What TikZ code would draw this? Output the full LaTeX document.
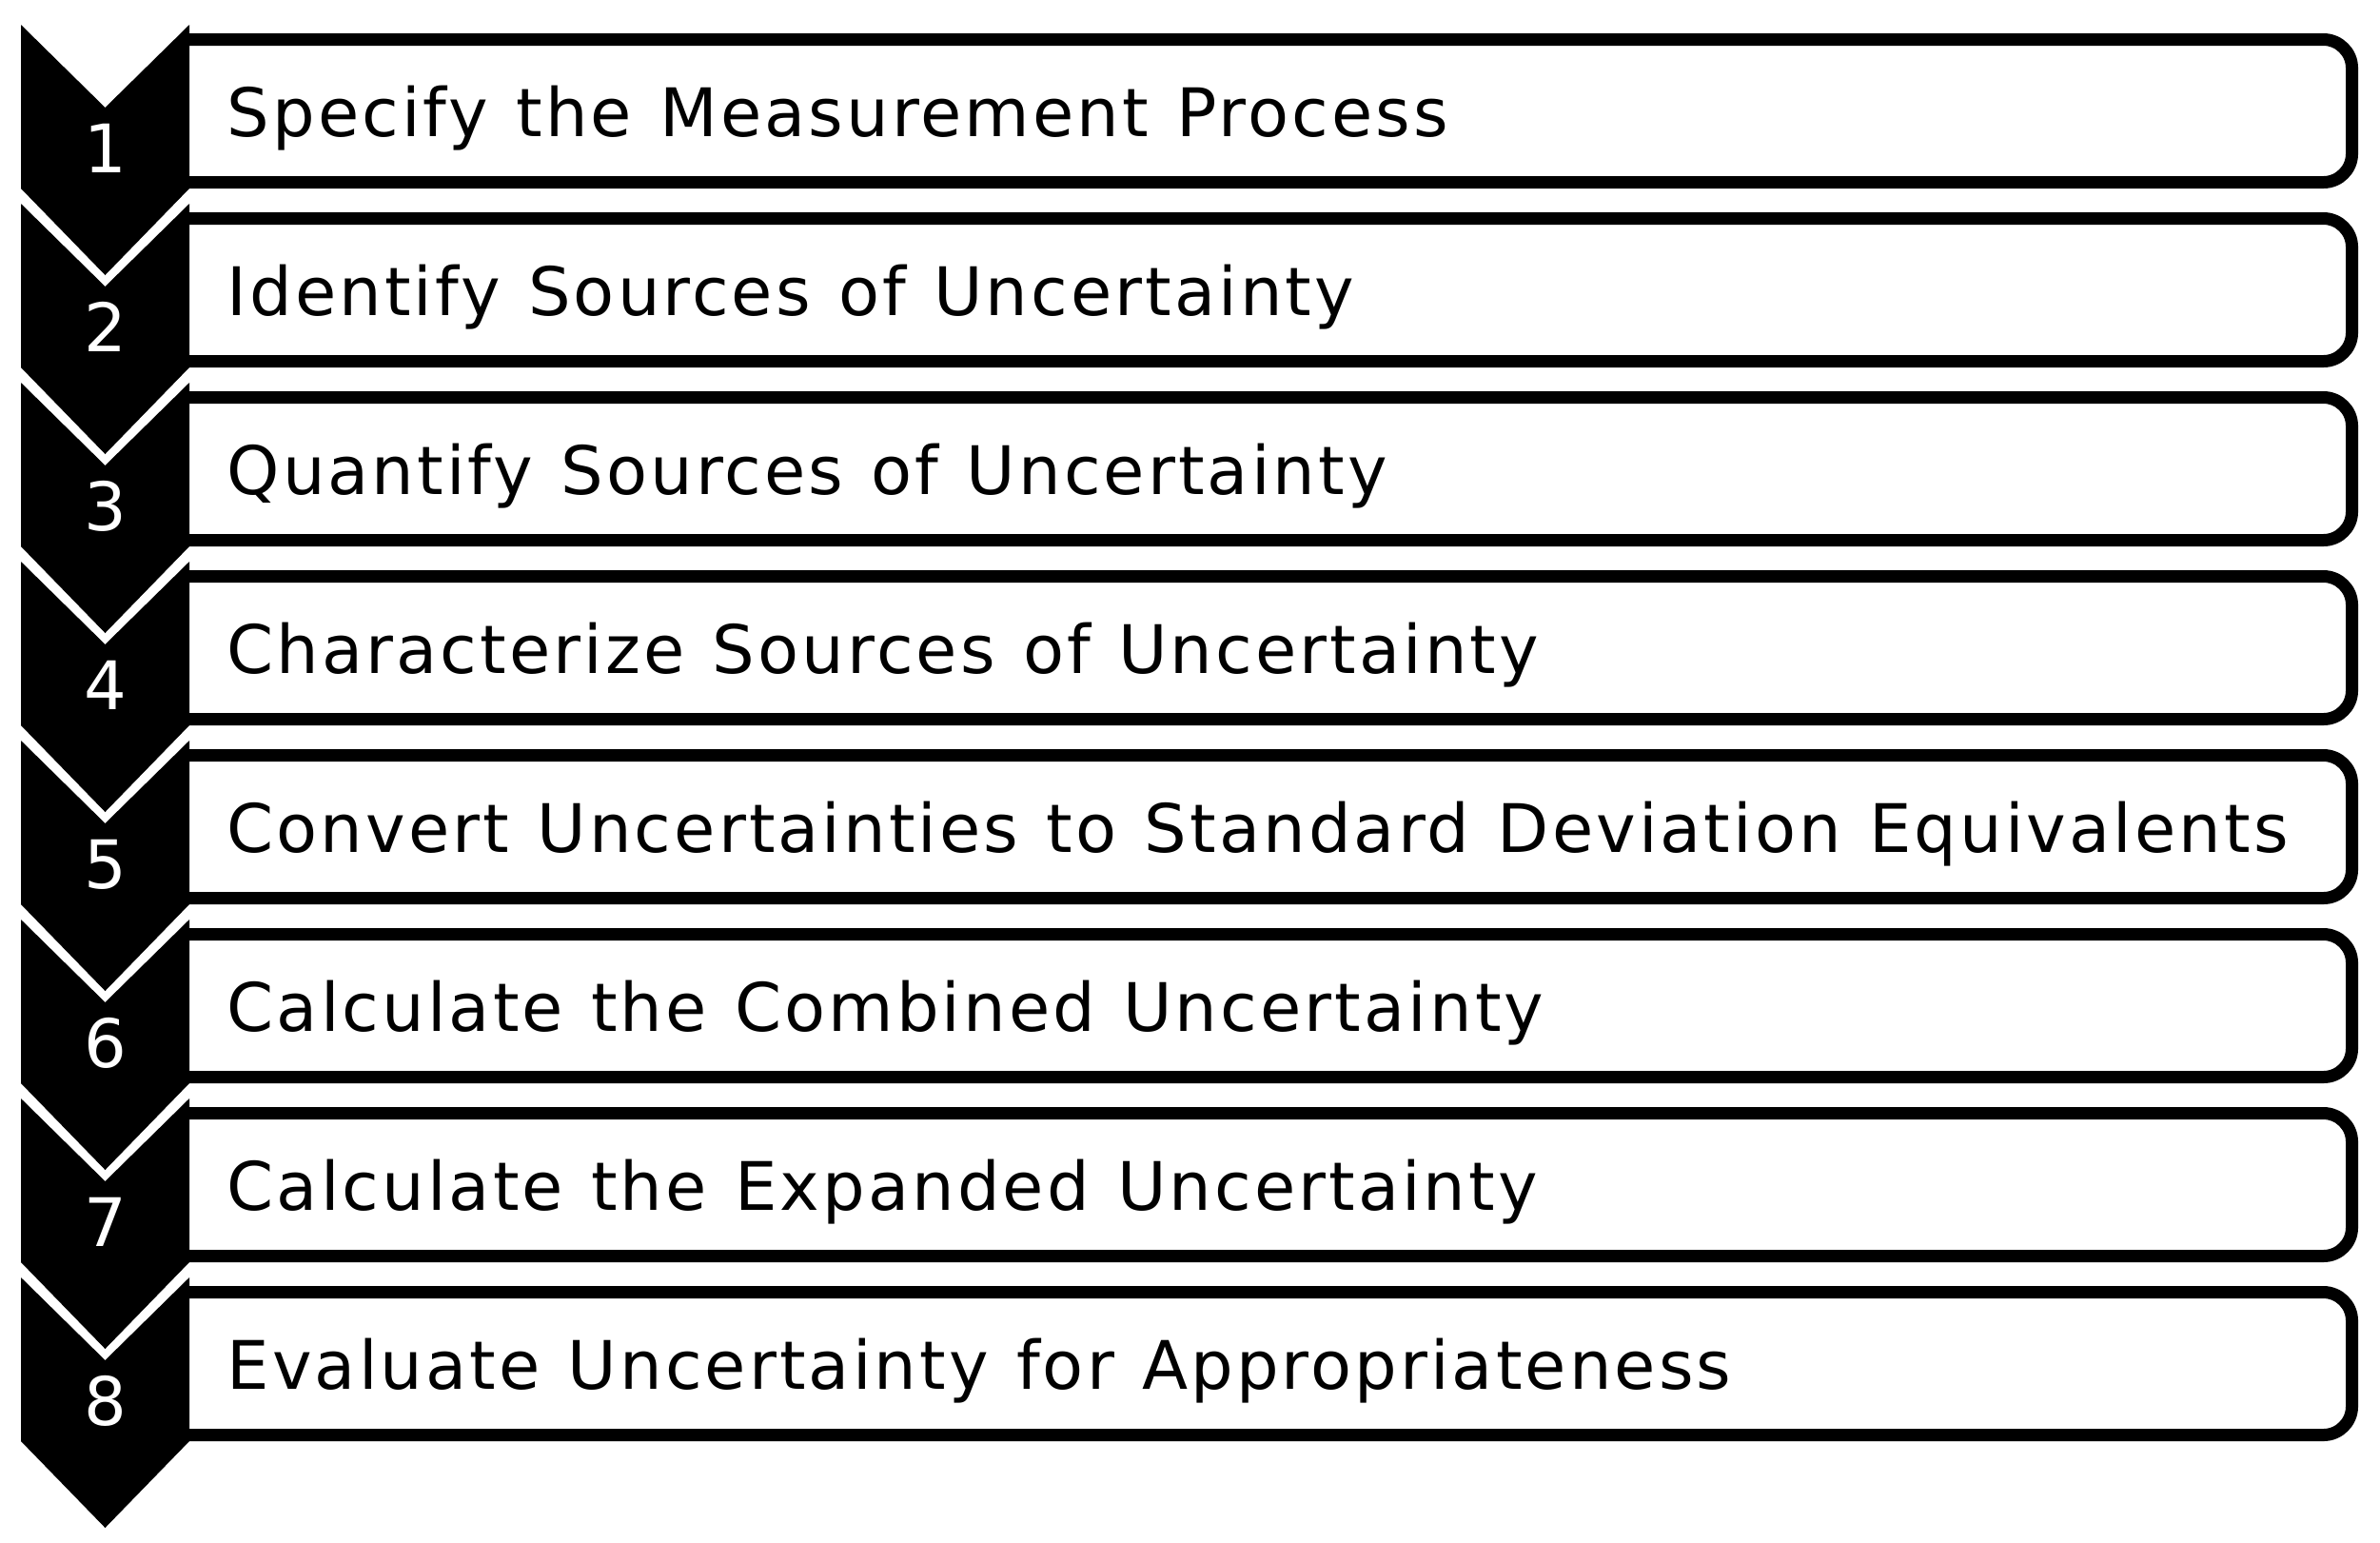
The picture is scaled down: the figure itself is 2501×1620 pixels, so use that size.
\documentclass[tikz,border=0pt]{standalone}
\usepackage{fontspec}
\setmainfont{DejaVu Sans}[LetterSpace=4.4,WordSpace=1.15]
\begin{document}
\begin{tikzpicture}
	  [x=0.01cm,y=-0.01cm,
	   stepbox/.style={draw,line width=0.13cm,rounded corners=0.3cm},
	   steptext/.style={anchor=base west,inner sep=0pt,font=\fontsize{20}{24}\selectfont},
	   stepnum/.style={anchor=base,inner sep=0pt,text=white,font=\fontsize{20}{24}\selectfont}]
	\useasboundingbox (0,0) rectangle (2501,1620);

	\foreach \k in {1,...,8} {
	  \pgfmathsetmacro{\T}{26+188*(\k-1)}
	  \draw[stepbox] (199,\T+15.5) -- (2471.5,\T+15.5) -- (2471.5,\T+165.5) -- (199,\T+165.5);
	  \fill (22,\T) -- (110.5,\T+87) -- (199,\T) -- (199,\T+172) -- (110.5,\T+263) -- (22,\T+172) -- cycle;
	  \node[stepnum] (n\k) at (110.5,\T+155) {\k};
	}

	\node[steptext] (t1) at (238,143)  {Specify the Measurement Process};
	\node[steptext] (t2) at (238,331)  {Identify Sources of Uncertainty};
	\node[steptext] (t3) at (238,519)  {Quantify Sources of Uncertainty};
	\node[steptext] (t4) at (238,707)  {Characterize Sources of Uncertainty};
	\node[steptext] (t5) at (238,895)  {Convert Uncertainties to Standard Deviation Equivalents};
	\node[steptext] (t6) at (238,1083) {Calculate the Combined Uncertainty};
	\node[steptext] (t7) at (238,1271) {Calculate the Expanded Uncertainty};
	\node[steptext] (t8) at (238,1459) {Evaluate Uncertainty for Appropriateness};
	\end{tikzpicture}
\end{document}
